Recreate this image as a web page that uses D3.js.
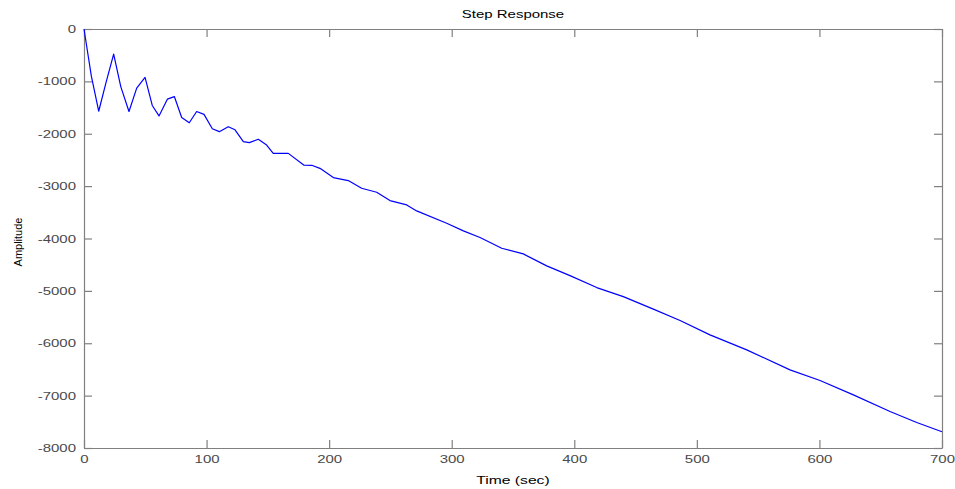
<!DOCTYPE html>
<html>
<head>
<meta charset="utf-8">
<script src="https://d3js.org/d3.v7.min.js"></script>
<style>
  body { margin: 0; background: #fff; }
  text { font-family: "Liberation Sans", Arial, sans-serif; }
</style>
</head>
<body>
<script>
// time (sec)
const times = [
  0, 6, 12, 18, 24.2, 30, 36.7, 43, 49.8, 55.7, 61.2, 68, 73.7, 79.7, 85.9,
  91.9, 97.9, 104.7, 110.4, 117.7, 123.2, 130, 134.9, 142.2, 149, 154.4,
  166.7, 179.5, 186.3, 192.5, 203.4, 215.6, 226.5, 238.8, 249.6, 263.3,
  271.4, 295.9, 309.5, 323.1, 340.8, 358.4, 377.5, 396.5, 418.3, 440,
  464.5, 486.3, 510.7, 540.7, 576, 600.5, 627.7, 657.6, 679.4, 700
];

// amplitude at each of those times
const amplitudes = [
  0, -900, -1570, -1020, -480, -1100, -1575, -1130, -925, -1460, -1660,
  -1340, -1290, -1690, -1790, -1575, -1630, -1905, -1960, -1865, -1925,
  -2150, -2170, -2105, -2215, -2375, -2375, -2600, -2605, -2660, -2837,
  -2894, -3041, -3117, -3276, -3359, -3473, -3708, -3855, -3980, -4186,
  -4294, -4523, -4708, -4937, -5109, -5349, -5565, -5840, -6126, -6508,
  -6712, -6985, -7303, -7513, -7690
];

const xTicks = [0, 100, 200, 300, 400, 500, 600, 700],
      yTicks = [0, -1000, -2000, -3000, -4000, -5000, -6000, -7000, -8000];

const width = 955,
      height = 489,
      padding = { left: 84, right: 13, top: 29, bottom: 41 },
      stretch = 1.36,
      axisColor = '#808080';

const xScale = d3.scaleLinear()
                 .domain([0, 700])
                 .range([padding.left, width - padding.right]),

      yScale = d3.scaleLinear()
                 .domain([-8000, 0])
                 .range([height - padding.bottom, padding.top]);

const svg = d3.select('body')
              .append('svg')
              .attr('width', width)
              .attr('height', height);

// plain hyphen minus, no thousands separator
const plain = d => String(d);

const xAxis = d3.axisBottom(xScale).tickValues(xTicks).tickSizeInner(-8).tickSizeOuter(0).tickPadding(7).tickFormat(plain),
      yAxis = d3.axisLeft(yScale).tickValues(yTicks).tickSizeInner(-8).tickSizeOuter(0).tickPadding(8).tickFormat(plain),
      xTop = d3.axisTop(xScale).tickValues(xTicks).tickSizeInner(-8).tickSizeOuter(0).tickFormat(''),
      yRight = d3.axisRight(yScale).tickValues(yTicks).tickSizeInner(-8).tickSizeOuter(0).tickFormat('');

const axes = [
  svg.append('g').attr('transform', 'translate(0,' + (height - padding.bottom) + ')').call(xAxis),
  svg.append('g').attr('transform', 'translate(' + padding.left + ',0)').call(yAxis),
  svg.append('g').attr('transform', 'translate(0,' + padding.top + ')').call(xTop),
  svg.append('g').attr('transform', 'translate(' + (width - padding.right) + ',0)').call(yRight)
];

axes.forEach(g => {
  g.select('.domain').attr('stroke', axisColor).attr('stroke-width', 1.2);
  g.selectAll('.tick line').attr('stroke', axisColor).attr('stroke-width', 1.2);
  g.selectAll('.tick text')
   .attr('fill', '#4a4a4a')
   .style('font-size', '11px')
   .style('font-family', '"Liberation Sans", Arial, sans-serif');
});

const line = d3.line()
               .x((d, i) => xScale(times[i]))
               .y(d => yScale(d));

svg.append('path')
   .datum(amplitudes)
   .attr('fill', 'none')
   .attr('stroke', '#0000ff')
   .attr('stroke-width', 1.2)
   .attr('stroke-linejoin', 'round')
   .attr('d', line);

svg.append('text')
   .attr('class', 'wide')
   .attr('x', (padding.left + width - padding.right) / 2)
   .attr('y', 18)
   .attr('text-anchor', 'middle')
   .style('font-size', '11px')
   .attr('fill', '#000')
   .text('Step Response');

svg.append('text')
   .attr('class', 'wide')
   .attr('x', (padding.left + width - padding.right) / 2)
   .attr('y', 484)
   .attr('text-anchor', 'middle')
   .style('font-size', '11.5px')
   .attr('fill', '#000')
   .text('Time (sec)');

svg.append('text')
   .attr('transform', 'translate(22,242) rotate(-90)')
   .attr('text-anchor', 'middle')
   .style('font-size', '11px')
   .attr('fill', '#000')
   .text('Amplitude');

// the reference is stretched sideways, so widen horizontal text to match
svg.selectAll('.tick text, text.wide').each(function() {
  const len = this.getComputedTextLength();
  if (len > 0) {
    d3.select(this)
      .attr('textLength', len * stretch)
      .attr('lengthAdjust', 'spacingAndGlyphs');
  }
});
</script>
</body>
</html>
